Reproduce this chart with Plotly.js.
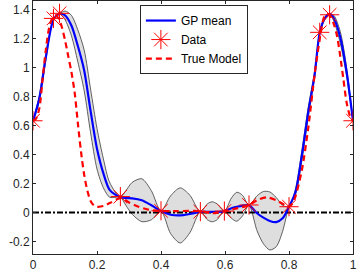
<!DOCTYPE html>
<html>
<head>
<meta charset="utf-8">
<script src="https://cdn.plot.ly/plotly-3.0.1.min.js"></script>
<style>
  html, body { margin: 0; padding: 0; background: #fff; }
  #plot { width: 364px; height: 274px; }
</style>
</head>
<body>
<div id="plot"></div>
<script>
// GP posterior
var gridX = [0, 0.02, 0.04, 0.064, 0.083, 0.10, 0.12, 0.14, 0.16, 0.18, 0.20, 0.22, 0.24, 0.273,
  0.29, 0.31, 0.34, 0.37, 0.40, 0.43, 0.46, 0.49, 0.523, 0.545, 0.56, 0.575, 0.598,
  0.62, 0.637, 0.655, 0.675, 0.70, 0.72, 0.74, 0.76, 0.78, 0.80, 0.82, 0.84, 0.86,
  0.88, 0.896, 0.912, 0.927, 0.94, 0.96, 0.98, 1.0];
var gpMean = [0.63, 0.79, 1.07, 1.33, 1.37, 1.36, 1.29, 1.15, 0.98, 0.70, 0.44, 0.27, 0.155, 0.105,
  0.10, 0.098, 0.085, 0.05, 0.01, -0.015, -0.02, -0.01, 0.005, 0.005, 0.005, 0.005, 0.01,
  0.03, 0.04, 0.048, 0.05, -0.005, -0.035, -0.058, -0.066, -0.04, 0.04, 0.14, 0.39, 0.69,
  0.95, 1.24, 1.34, 1.37, 1.34, 1.21, 0.97, 0.63];
var gpUpper = [0.63, 0.81, 1.09, 1.33, 1.37, 1.39, 1.36, 1.26, 1.12, 0.85, 0.58, 0.37, 0.205, 0.105,
  0.15, 0.208, 0.233, 0.15, 0.01, 0.115, 0.17, 0.12, 0.005, 0.06, 0.074, 0.06, 0.01,
  0.10, 0.14, 0.118, 0.05, 0.115, 0.145, 0.142, 0.104, 0.05, 0.04, 0.16, 0.425, 0.725,
  0.97, 1.24, 1.35, 1.37, 1.36, 1.25, 1.00, 0.63];
var gpLower = [0.63, 0.77, 1.05, 1.33, 1.37, 1.33, 1.22, 1.04, 0.84, 0.55, 0.30, 0.17, 0.105, 0.105,
  0.05, -0.012, -0.063, -0.05, 0.01, -0.145, -0.21, -0.14, 0.005, -0.05, -0.064, -0.05, 0.01,
  -0.04, -0.06, -0.022, 0.05, -0.125, -0.215, -0.258, -0.236, -0.13, 0.04, 0.12, 0.355, 0.655,
  0.93, 1.24, 1.33, 1.37, 1.32, 1.17, 0.94, 0.63];

// noisy observations
var dataX = [0, 0.064, 0.083, 0.273, 0.40, 0.523, 0.598, 0.675, 0.80, 0.896, 0.927, 1.0];
var dataY = [0.633, 1.339, 1.374, 0.11, 0.012, 0.006, 0.01, 0.052, 0.04, 1.243, 1.364, 0.633];

// true function
var trueX = [0, 0.01, 0.02, 0.03, 0.04, 0.05, 0.06, 0.07, 0.08, 0.09, 0.10, 0.11, 0.12, 0.13,
  0.14, 0.15, 0.16, 0.17, 0.18, 0.19, 0.20, 0.22, 0.24, 0.273, 0.30, 0.33, 0.36, 0.40,
  0.45, 0.523, 0.56, 0.598, 0.64, 0.675, 0.70, 0.73, 0.76, 0.80, 0.81, 0.82, 0.84, 0.86,
  0.88, 0.90, 0.91, 0.92, 0.93, 0.94, 0.95, 0.96, 0.97, 0.98, 0.99, 1.0];
var trueY = [0.63, 0.65, 0.72, 0.92, 1.12, 1.27, 1.34, 1.36, 1.34, 1.28, 1.19, 1.08, 0.97, 0.83,
  0.62, 0.42, 0.26, 0.15, 0.08, 0.05, 0.04, 0.045, 0.065, 0.10, 0.07, 0.04, 0.02, 0.01,
  0.01, 0.01, -0.005, 0.01, 0.03, 0.05, 0.085, 0.105, 0.085, 0.04, 0.06, 0.11, 0.29, 0.58,
  0.95, 1.25, 1.35, 1.37, 1.35, 1.30, 1.22, 1.08, 0.92, 0.76, 0.67, 0.63];

var zeroLevel = 0;

var bandLower = {
  x: gridX, y: gpLower, type: 'scatter', mode: 'lines',
  line: {color: '#3a3a3a', width: 0.8, shape: 'spline', smoothing: 0.8},
  showlegend: false, hoverinfo: 'skip'
};
var bandUpper = {
  x: gridX, y: gpUpper, type: 'scatter', mode: 'lines',
  fill: 'tonexty', fillcolor: '#dedede',
  line: {color: '#3a3a3a', width: 0.8, shape: 'spline', smoothing: 0.8},
  showlegend: false, hoverinfo: 'skip'
};
var zeroLine = {
  x: [gridX[0], gridX[gridX.length - 1]], y: [zeroLevel, zeroLevel],
  type: 'scatter', mode: 'lines',
  line: {color: '#000', width: 2, dash: '6px,2px,2px,2px'},
  showlegend: false
};
var meanTrace = {
  x: gridX, y: gpMean, type: 'scatter', mode: 'lines', name: 'GP mean',
  line: {color: '#0000ff', width: 2.2, shape: 'spline', smoothing: 0.8}
};
var dataTrace = {
  x: dataX, y: dataY, type: 'scatter', mode: 'markers', name: 'Data',
  marker: {symbol: 'asterisk-open', size: 16, color: '#ff0000', line: {color: '#ff0000', width: 1}}
};
var trueTrace = {
  x: trueX, y: trueY, type: 'scatter', mode: 'lines', name: 'True Model',
  line: {color: '#ff0000', width: 2.2, dash: '6px,4px', shape: 'spline', smoothing: 0.8}
};

var axisStyle = {
  showgrid: false, zeroline: false,
  showline: true, linecolor: '#262626', linewidth: 1, mirror: 'ticks',
  ticks: 'inside', ticklen: 3, tickcolor: '#262626',
  tickfont: {family: 'Liberation Sans, Arial, sans-serif', size: 12, color: '#262626'}
};

var layout = {
  width: 364, height: 274,
  margin: {l: 33, r: 11, t: 1, b: 20},
  paper_bgcolor: '#fff', plot_bgcolor: '#fff',
  showlegend: true,
  legend: {
    x: 0.334, y: 0.984, xanchor: 'left', yanchor: 'top',
    bgcolor: '#fff', bordercolor: '#262626', borderwidth: 1,
    font: {family: 'Liberation Sans, Arial, sans-serif', size: 12, color: '#000'},
    traceorder: 'normal', tracegroupgap: 0
  },
  xaxis: Object.assign({}, axisStyle, {range: [0, 1], tickvals: [0, 0.2, 0.4, 0.6, 0.8, 1], ticktext: ['0', '0.2', '0.4', '0.6', '0.8', '1']}),
  yaxis: Object.assign({}, axisStyle, {range: [-0.286, 1.459], tickvals: [-0.2, 0, 0.2, 0.4, 0.6, 0.8, 1, 1.2, 1.4], ticktext: ['-0.2', '0', '0.2', '0.4', '0.6', '0.8', '1', '1.2', '1.4']})
};

Plotly.newPlot('plot', [bandLower, bandUpper, zeroLine, meanTrace, dataTrace, trueTrace], layout, {staticPlot: true});
</script>
</body>
</html>
